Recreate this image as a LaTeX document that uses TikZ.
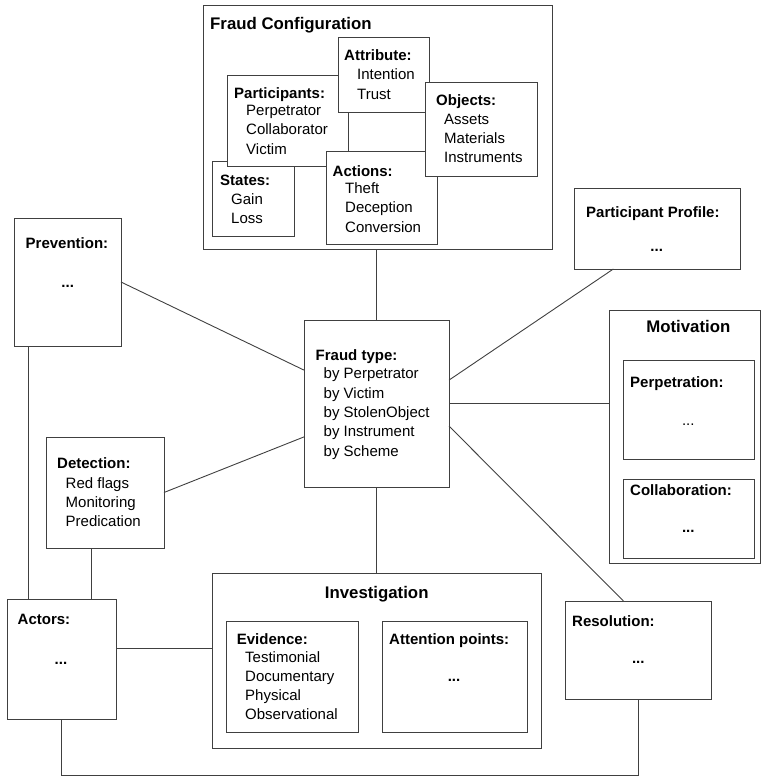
\documentclass[tikz,border=0pt]{standalone}
\usepackage{fontspec}
\setmainfont{Liberation Sans}
\usetikzlibrary{fit,calc}

% a column of entries below a heading: name, x, first y, line step, entries
\newcommand\entrylist[5]{%
  \foreach \txt [count=\k] in {#5}{%
    \node[itm] (#1-\k) at (#2,{#3+(\k-1)*#4}) {\txt};}}

\begin{document}
\begin{tikzpicture}[x=1pt,y=-1pt,
  frame/.style={draw=black!75, line width=0.9pt, fill=white, inner sep=0pt, outer sep=0pt},
  link/.style={draw=black!75, line width=0.9pt},
  lbl/.style={anchor=west, inner sep=0pt, text height=10.7pt, text depth=0pt,
              font=\fontsize{15}{18}\selectfont\bfseries},
  itm/.style={anchor=west, inner sep=0pt, text height=10.7pt, text depth=0pt,
              font=\fontsize{15}{18}\selectfont},
  ttl/.style={inner sep=0pt, text height=12pt, text depth=0pt,
              font=\fontsize{16.8}{20}\selectfont\bfseries},
  more/.style={anchor=base, inner sep=0pt, font=\fontsize{15}{18}\selectfont\bfseries},
  morelight/.style={anchor=base, inner sep=0pt, font=\fontsize{15}{18}\selectfont}]

\useasboundingbox (0,0) rectangle (762,776);

% ---------- Fraud Configuration ----------
\node[frame, fit={(203,5) (552,249)}] (fc) {};
\node[ttl, anchor=west] (fc-t) at (210,24) {Fraud Configuration};

\node[frame, fit={(212,161) (294,236)}] (states) {};
\node[lbl] (states-t) at (220,180) {States:};
\entrylist{states}{231}{199}{19.3}{Gain,Loss}

\node[frame, fit={(227,75) (348,166)}] (part) {};
\node[lbl] (part-t) at (234,92.7) {Participants:};
\entrylist{part}{246}{110}{19.5}{Perpetrator,Collaborator,Victim}

\node[frame, fit={(338,37) (429,112)}] (attr) {};
\node[lbl] (attr-t) at (344,55) {Attribute:};
\entrylist{attr}{357}{74}{20}{Intention,Trust}

\node[frame, fit={(326,151) (437,244)}] (act) {};
\node[lbl] (act-t) at (332.5,170.7) {Actions:};
\entrylist{act}{345}{188.3}{19.2}{Theft,Deception,Conversion}

\node[frame, fit={(425,82) (537,176)}] (obj) {};
\node[lbl] (obj-t) at (436,100) {Objects:};
\entrylist{obj}{444}{119}{19.3}{Assets,Materials,Instruments}

% ---------- Surrounding boxes ----------
\node[frame, fit={(14,218) (121,346)}] (prev) {};
\node[lbl] (prev-t) at (25.5,243.3) {Prevention:};
\node[more] (prev-m) at (67.7,287.5) {...};

\node[frame, fit={(574,188) (740,269)}] (pprof) {};
\node[lbl] (pprof-t) at (586,211.7) {Participant Profile:};
\node[more] (pprof-m) at (656.7,251.5) {...};

\node[frame, fit={(304,320) (449,487)}] (ft) {};
\node[lbl] (ft-t) at (315.5,355) {Fraud type:};
\entrylist{ft}{323.5}{373.3}{19.35}{by Perpetrator,by Victim,by StolenObject,by Instrument,by Scheme}

\node[frame, fit={(609,310) (760,563)}] (mot) {};
\node[ttl] (mot-t) at (688.3,326.7) {Motivation};
\node[frame, fit={(623,360) (754,459)}] (perp) {};
\node[lbl] (perp-t) at (630,381.7) {Perpetration:};
\node[morelight] (perp-m) at (688.3,425) {...};
\node[frame, fit={(623,479) (754,558)}] (collab) {};
\node[lbl] (collab-t) at (630,490) {Collaboration:};
\node[more] (collab-m) at (688.3,532.2) {...};

\node[frame, fit={(46,437) (164,548)}] (det) {};
\node[lbl] (det-t) at (57,462.7) {Detection:};
\entrylist{det}{65.5}{482.7}{19}{Red flags,Monitoring,Predication}

\node[frame, fit={(7,599) (116,719)}] (actors) {};
\node[lbl] (actors-t) at (17.5,619.3) {Actors:};
\node[more] (actors-m) at (61,664.2) {...};

\node[frame, fit={(212,573) (541,748)}] (inv) {};
\node[ttl] (inv-t) at (376.7,592.3) {Investigation};
\node[frame, fit={(226,621) (358,732)}] (evid) {};
\node[lbl] (evid-t) at (236.7,639) {Evidence:};
\entrylist{evid}{245}{656.7}{19.2}{Testimonial,Documentary,Physical,Observational}
\node[frame, fit={(382,621) (527,732)}] (attn) {};
\node[lbl] (attn-t) at (389,639) {Attention points:};
\node[more] (attn-m) at (454,681.5) {...};

\node[frame, fit={(565,601) (711,699)}] (res) {};
\node[lbl] (res-t) at (572,620.7) {Resolution:};
\node[more] (res-m) at (638.3,663.2) {...};

% ---------- Connectors ----------
\draw[link] (fc.south -| ft.north) -- (ft.north);
\draw[link] (prev.east) -- ($(ft.north west)!0.30!(ft.south west)$);
\draw[link] (det.east) -- ($(ft.north west)!0.70!(ft.south west)$);
\draw[link] ($(pprof.south west)!0.237!(pprof.south east)$)
         -- ($(ft.north east)!0.36!(ft.south east)$);
\draw[link] (ft.east) -- (ft.east -| mot.west);
\draw[link] ($(ft.north east)!0.635!(ft.south east)$)
         -- ($(res.north west)!0.40!(res.north east)$);
\draw[link] (ft.south) -- (inv.north);

\coordinate (pv) at ($(prev.south west)!0.137!(prev.south east)$);
\draw[link] (pv) -- (pv |- actors.north);
\coordinate (dv) at ($(det.south west)!0.387!(det.south east)$);
\draw[link] (dv) -- (dv |- actors.north);
\coordinate (ai) at ($(actors.north east)!0.41!(actors.south east)$);
\draw[link] (ai) -- (ai -| inv.west);
\coordinate (loop) at ($(actors.south)+(0,56)$);
\draw[link] (actors.south) -- (loop) -| (res.south);

\end{tikzpicture}
\end{document}
